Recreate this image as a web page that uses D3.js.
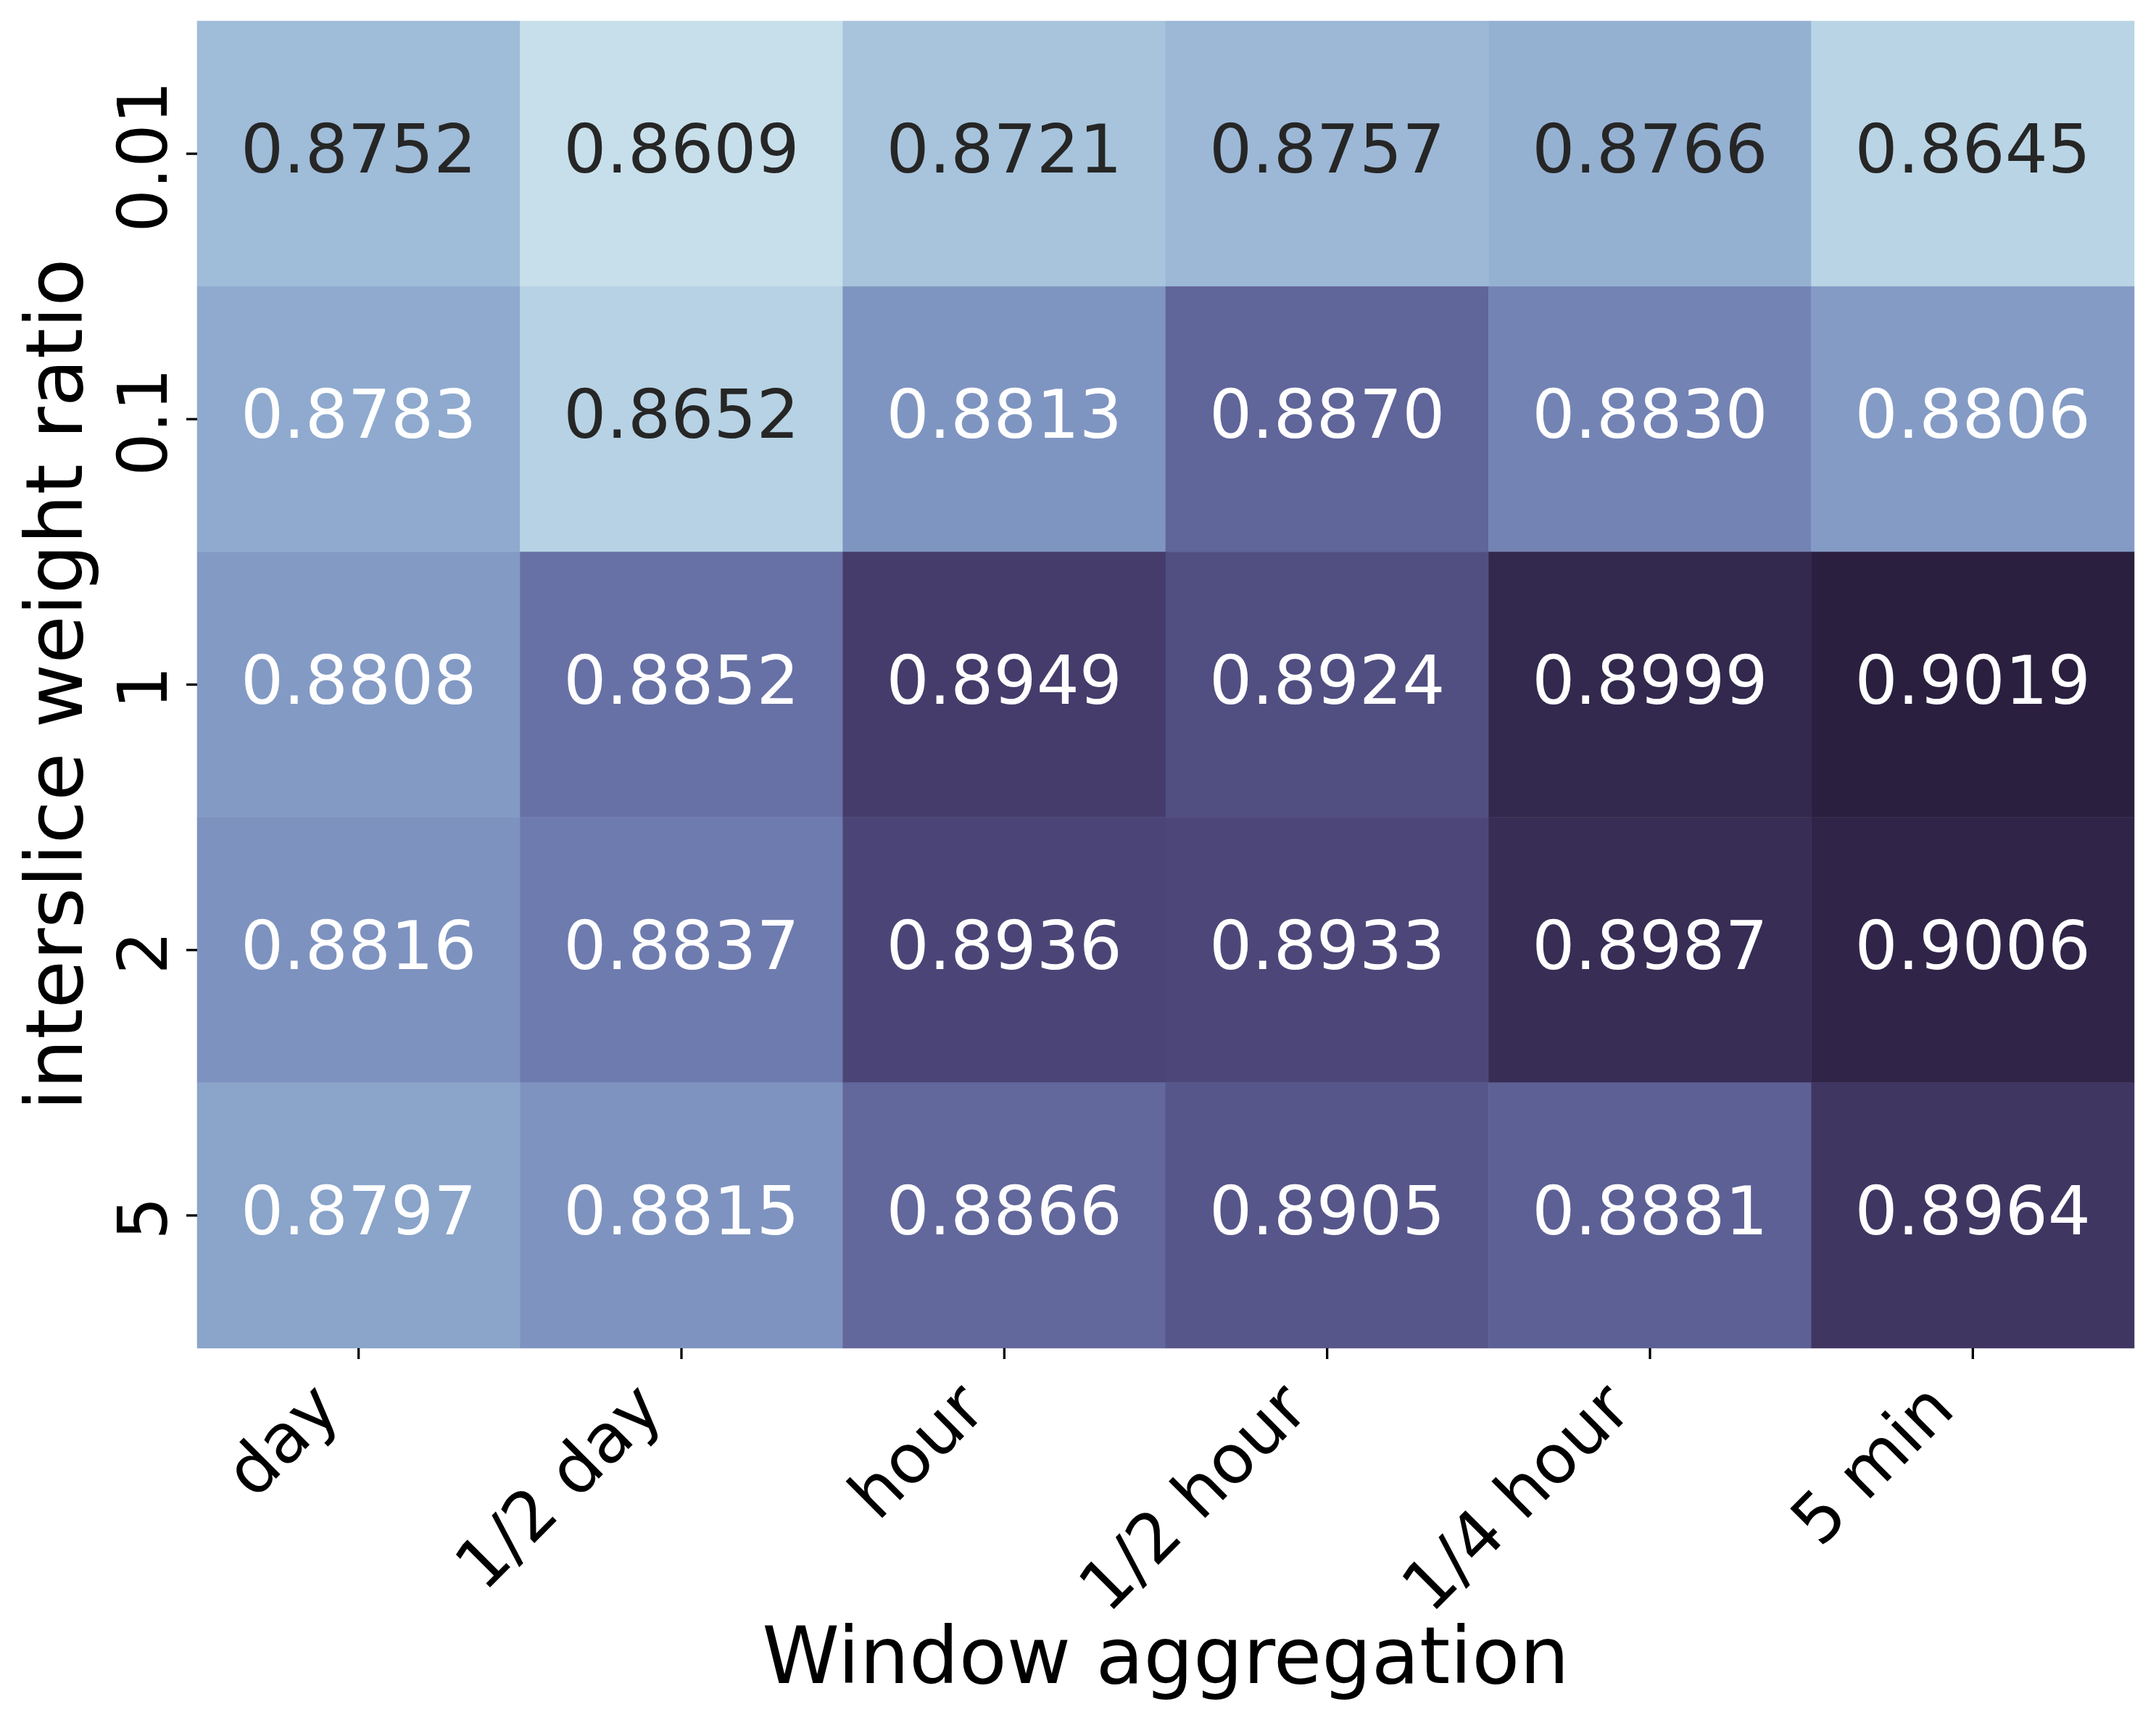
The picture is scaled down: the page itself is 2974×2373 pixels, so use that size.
<!DOCTYPE html>
<html>
<head>
<meta charset="utf-8">
<script src="https://cdn.jsdelivr.net/npm/d3@7"></script>
<style>
  body { margin: 0; background: #fff; }
  text { font-family: "DejaVu Sans", sans-serif; }
</style>
</head>
<body>
<svg id="chart"></svg>
<script>
const width = 2974;
const height = 2373;

// dati
const windows = ["day", "1/2 day", "hour", "1/2 hour", "1/4 hour", "5 min"];
const ratios = ["0.01", "0.1", "1", "2", "5"];
const scores = [
    [0.8752, 0.8609, 0.8721, 0.8757, 0.8766, 0.8645],
    [0.8783, 0.8652, 0.8813, 0.8870, 0.8830, 0.8806],
    [0.8808, 0.8852, 0.8949, 0.8924, 0.8999, 0.9019],
    [0.8816, 0.8837, 0.8936, 0.8933, 0.8987, 0.9006],
    [0.8797, 0.8815, 0.8866, 0.8905, 0.8881, 0.8964]
];

// normalizzazione del colore (non lineare, stimata dalla figura)
const colorKnots = [0.8609, 0.8652, 0.8721, 0.8752, 0.8766, 0.8797, 0.8813, 0.8837, 0.8870, 0.8924, 0.8949, 0.8987, 0.9019];
const colorPos   = [0, 0.075, 0.15, 0.19, 0.25, 0.315, 0.39, 0.515, 0.625, 0.74, 0.835, 0.92, 1];

const margin = { left: 272, right: 30, top: 29, bottom: 513 };

const svg = d3.select("#chart")
    .attr("width", width)
    .attr("height", height)
    .attr("viewBox", `0 0 ${width} ${height}`);

const x = d3.scaleBand()
    .domain(windows)
    .range([margin.left, width - margin.right]);

const y = d3.scaleBand()
    .domain(ratios)
    .range([margin.top, height - margin.bottom]);

// colormap cubehelix (start .25, rot -.25, come seaborn "ch:s=.25,rot=-.25")
function cubehelix(t) {
    const start = 0.25, rot = -0.25, hue = 0.8, gamma = 1;
    const xg = Math.pow(t, gamma);
    const a = hue * xg * (1 - xg) / 2;
    const phi = 2 * Math.PI * (start / 3 + rot * t);
    const c = (p0, p1) => Math.max(0, Math.min(1, xg + a * (p0 * Math.cos(phi) + p1 * Math.sin(phi))));
    return d3.rgb(
        255 * c(-0.14861, 1.78277),
        255 * c(-0.29227, -0.90649),
        255 * c(1.97294, 0.0)
    );
}

const cells = [];
scores.forEach((row, i) => row.forEach((v, j) => cells.push({ ratio: ratios[i], win: windows[j], value: v })));

const norm = d3.scaleLinear()
    .domain(colorKnots)
    .range(colorPos)
    .clamp(true);

// light = .85, dark = .15
const color = v => cubehelix(0.85 - 0.7 * norm(v));

function luminance(c) {
    const lin = u => {
        u = u / 255;
        return u <= 0.03928 ? u / 12.92 : Math.pow((u + 0.055) / 1.055, 2.4);
    };
    return 0.2126 * lin(c.r) + 0.7152 * lin(c.g) + 0.0722 * lin(c.b);
}

svg.append("g")
    .selectAll("rect")
    .data(cells)
    .enter()
    .append("rect")
    .attr("x", d => x(d.win))
    .attr("y", d => y(d.ratio))
    .attr("width", x.bandwidth())
    .attr("height", y.bandwidth())
    .attr("fill", d => color(d.value))
    .attr("stroke", d => color(d.value))
    .attr("stroke-width", 0.5);

svg.append("g")
    .selectAll("text")
    .data(cells)
    .enter()
    .append("text")
    .attr("x", d => x(d.win) + x.bandwidth() / 2)
    .attr("y", d => y(d.ratio) + y.bandwidth() / 2 + 26)
    .attr("text-anchor", "middle")
    .attr("font-size", 93)
    .attr("fill", d => luminance(color(d.value)) > 0.408 ? "#262626" : "#ffffff")
    .text(d => d3.format(".4f")(d.value));

// asse x
const xAxis = svg.append("g")
    .attr("transform", `translate(0,${height - margin.bottom})`)
    .call(d3.axisBottom(x).tickSize(15).tickSizeOuter(0));
xAxis.select(".domain").remove();
xAxis.selectAll(".tick line").attr("stroke", "#000").attr("stroke-width", 3.3);
xAxis.selectAll(".tick text")
    .attr("font-size", 94)
    .attr("fill", "#000")
    .attr("text-anchor", "end")
    .attr("dy", null)
    .attr("y", null)
    .attr("transform", "translate(-22,88) rotate(-45)");

// asse y
const yAxis = svg.append("g")
    .attr("transform", `translate(${margin.left},0)`)
    .call(d3.axisLeft(y).tickSize(15).tickSizeOuter(0));
yAxis.select(".domain").remove();
yAxis.selectAll(".tick line").attr("stroke", "#000").attr("stroke-width", 3.3);
yAxis.selectAll(".tick text")
    .attr("font-size", 94)
    .attr("fill", "#000")
    .attr("text-anchor", "middle")
    .attr("x", null)
    .attr("dy", null)
    .attr("transform", "translate(-42,4) rotate(-90)");

svg.append("text")
    .attr("x", (x.range()[0] + x.range()[1]) / 2)
    .attr("y", 2322)
    .attr("text-anchor", "middle")
    .attr("font-size", 108)
    .text("Window aggregation");

svg.append("text")
    .attr("transform", `translate(113,${(y.range()[0] + y.range()[1]) / 2}) rotate(-90)`)
    .attr("text-anchor", "middle")
    .attr("font-size", 108)
    .text("interslice weight ratio");
</script>
</body>
</html>
